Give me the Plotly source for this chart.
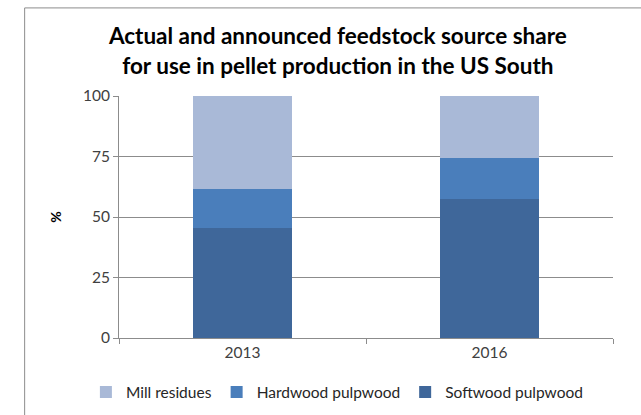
import plotly.graph_objects as go

years = ["2013", "2016"]
softwood = [45.5, 57.5]
hardwood = [16, 17]
mill_residues = [38.5, 25.5]

series = [
    ("Softwood pulpwood", softwood, "#3F679A"),
    ("Hardwood pulpwood", hardwood, "#4A7EBB"),
    ("Mill residues", mill_residues, "#A9B9D7"),
]

font_family = "Lato, Open Sans, sans-serif"

fig = go.Figure()
for name, vals, color in series:
    fig.add_trace(go.Bar(
        x=years, y=vals, name=name,
        marker=dict(color=color, line=dict(width=0)),
        width=0.4,
    ))

fig.update_layout(
    width=641, height=415,
    margin=dict(l=119, r=28, t=96, b=77, autoexpand=False),
    paper_bgcolor="white", plot_bgcolor="white",
    barmode="stack",
    title=dict(
        text="<b>Actual and announced feedstock source share<br>for use in pellet production in the US South</b>",
        x=0.527, xanchor="center", y=0.893, yanchor="middle",
        font=dict(family=font_family, size=22.5, color="#000000"),
    ),
    legend=dict(
        orientation="h", traceorder="reversed",
        x=-0.067, xanchor="left", y=-0.225, yanchor="middle",
        font=dict(family=font_family, size=15.5, color="#262626"),
        itemwidth=30,
    ),
    font=dict(family=font_family, size=15, color="#404040"),
    showlegend=True,
)

fig.update_xaxes(
    type="category",
    showline=True, linecolor="#8C8C8C", linewidth=1,
    ticks="outside", tickson="boundaries", ticklen=5, tickcolor="#8C8C8C",
    showgrid=False,
    tickfont=dict(family=font_family, size=15.5, color="#404040"),
)
fig.update_yaxes(
    range=[0, 100], dtick=25,
    showline=True, linecolor="#8C8C8C", linewidth=1,
    ticks="outside", ticklen=5, tickcolor="#8C8C8C",
    showgrid=True, gridcolor="#8C8C8C", gridwidth=1,
    zeroline=False,
    tickfont=dict(family=font_family, size=15.5, color="#404040"),
    title=dict(text="<b>%</b>", standoff=18,
               font=dict(family=font_family, size=14, color="#000000")),
)

# chart frame (left and top edges)
fig.add_shape(type="line", xref="paper", yref="paper",
              x0=-0.191, x1=-0.191, y0=1.364, y1=-0.4,
              line=dict(color="#8C8C8C", width=1))
fig.add_shape(type="line", xref="paper", yref="paper",
              x0=-0.191, x1=1.1, y0=1.364, y1=1.364,
              line=dict(color="#8C8C8C", width=1))

fig.write_html("out.html")
